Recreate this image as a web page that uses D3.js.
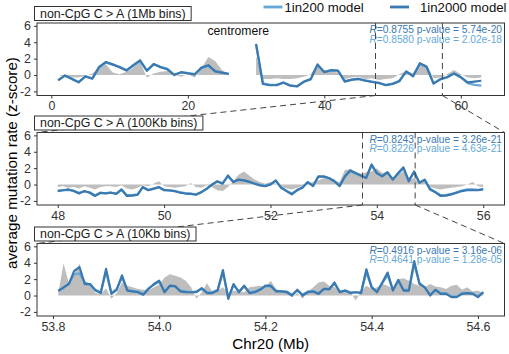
<!DOCTYPE html>
<html>
<head>
<meta charset="utf-8">
<script src="https://cdn.jsdelivr.net/npm/d3@7"></script>
<style>
  body { margin: 0; background: #fff; }
  svg { font-family: "Liberation Sans", Arial, sans-serif; }
</style>
</head>
<body>
<svg id="chart"></svg>
<script>
// ---- data ----
const legendLabels = ['1in200 model', '1in2000 model'];
const yTicks = [-2, 0, 2, 4, 6];

// 1Mb bins (centromere gap = null)
const bins1Mb = d3.range(1, 64);
const obs1Mb = [0, -0.2, -0.3, -0.3, -0.1, 0.2, 0.9, 1.3, 0.3, 0.1, 0.4, 0.9, 1.6, -0.3, 0.2, 0.4, 0.5, 0.1, -0.2, 0.1,
  -0.3, 0.8, 2.2, 1.7, 0.6, 0.1, null, null, null,
  2.3, -0.5, -0.5, -0.4, -0.5, -0.5, -0.4, -0.2, 0.1, 1.3, 0.3, 0.4, 0.3, -0.5, -0.3, -0.2, -0.5, -0.4, -0.6, -0.5,
  -0.4, 0.1, 0.5, 0.2, 1.5, 1.2, -0.4, -0.3, 0.1, 0.6, 0.1, -0.3, -0.4, -0.3];
const m200_1Mb = [-0.6, -0.1, -0.5, -0.85, -0.2, -0.4, 0.9, 1.5, 1.25, 1.0, 0.6, 1.1, 1.7, 0.5, 1.3, 1.0, 0.75, 0.05, 0.3, 0.25,
  0.05, 0.85, 1.1, 0.5, 0.25, 0.1, null, null, null,
  3.7, -1.0, -1.2, -1.2, -0.95, -1.25, -1.35, -0.85, -0.55, 1.2, 0.4, 0.55, 0.5, -0.75, -0.55, -0.5, -0.65, -0.8, -1.0, -1.2,
  -1.05, -0.7, 0.4, -0.1, 1.35, 0.95, -1.0, -0.55, -0.3, 0.15, -0.3, -1.0, -1.2, -1.3];
const m2000_1Mb = [-0.65, -0.05, -0.45, -0.9, -0.15, -0.45, 1.0, 1.6, 1.3, 0.95, 0.55, 1.2, 1.8, 0.55, 1.35, 0.95, 0.7, 0.0, 0.35, 0.2,
  0.1, 0.9, 1.2, 0.45, 0.3, 0.15, null, null, null,
  3.8, -1.1, -1.25, -1.25, -0.9, -1.3, -1.4, -0.8, -0.5, 1.3, 0.35, 0.6, 0.55, -0.8, -0.6, -0.45, -0.7, -0.85, -0.95, -1.25,
  -1.1, -0.75, 0.45, -0.15, 1.45, 1.0, -1.05, -0.5, -0.25, 0.2, -0.25, -0.9, -0.8, -0.7];

// 100Kb bins, 48.0 .. 56.0
const bins100Kb = d3.range(0, 81).map(i => 48 + i / 10);
const obs100Kb = [-0.3, -0.2, -0.4, -0.3, -0.5, -0.2, -0.4, -0.6, -0.3, -0.2,
  -0.2, -0.3, -0.1, -0.5, -0.6, -0.4, -0.1, -0.2, 0.1, 0.4,
  -0.2, -0.3, -0.4, -0.3, -0.2, 0.2, -0.3, -0.4, -0.1, -0.3,
  -0.7, -0.8, -0.3, 0.4, 1.2, 1.6, 1.1, 0.6, 0.3, 0.1,
  0.3, 0.1, -0.3, -0.5, -0.6, -0.4, -0.2, 0.1, 0.3, 0.5,
  0.8, 0.6, 0.4, 0.3, 1.8, 1.8, 1.5, 1.3, 1.5, 1.6,
  2.0, 1.4, 1.6, 0.8, 1.2, 1.6, 0.5, 0.8, 0.2, 0.4,
  -0.3, -0.5, -0.6, -0.5, -0.4, -0.3, -0.2, 0.0, 0.3, -0.2,
  -0.3];
const m200_100Kb = [-0.75, -0.7, -0.65, -0.75, -1.0, -0.85, -0.95, -1.3, -1.05, -1.05,
  -1.0, -1.1, -0.65, -1.3, -1.3, -1.2, -0.35, -0.65, -0.55, -0.35,
  -0.65, -0.75, -0.8, -0.95, -1.05, -1.1, -1.2, -0.9, -0.55, -0.05,
  0.35, 0.15, 1.0, 0.35, 0.55, 0.5, 0.3, 0.15, -0.05, -0.15,
  0.05, 0.45, -0.35, -0.75, -1.1, -0.65, -0.35, 0.25, -0.1, 0.9,
  0.95, 0.75, 0.45, -0.1, 0.95, 1.6, 1.35, 1.05, 0.85, 2.3,
  1.35, 1.05, 1.4, 0.65, 1.3, 1.95, 0.45, 1.5, 0.25, 0.55,
  -0.5, -0.9, -1.3, -1.3, -1.15, -0.95, -0.75, -0.6, -0.6, -0.65,
  -0.55];
const m2000_100Kb = [-0.8, -0.7, -0.6, -0.8, -1.1, -0.8, -1.0, -1.4, -1.0, -1.1,
  -1.0, -1.15, -0.6, -1.4, -1.35, -1.25, -0.3, -0.7, -0.5, -0.3,
  -0.7, -0.7, -0.8, -1.0, -1.1, -1.15, -1.25, -0.95, -0.5, 0.0,
  0.4, 0.1, 1.1, 0.3, 0.6, 0.5, 0.35, 0.1, -0.1, -0.2,
  0.0, 0.5, -0.4, -0.8, -1.2, -0.7, -0.4, 0.3, -0.2, 1.0,
  1.0, 0.8, 0.4, -0.2, 1.0, 1.75, 1.4, 1.1, 0.8, 2.45,
  1.4, 1.0, 1.5, 0.6, 1.4, 2.1, 0.4, 1.6, 0.2, 0.6,
  -0.6, -0.95, -1.4, -1.35, -1.2, -1.0, -0.8, -0.7, -0.7, -0.7,
  -0.6];

// 10Kb bins, 53.81 .. 54.61
const bins10Kb = d3.range(0, 81).map(i => 53.81 + i / 100);
const obs10Kb = [0.3, 3.9, 1.5, 2.6, 3.9, 1.5, 1.2, 0.3, 0.2, 0.9,
  -0.4, 0.3, 1.6, 1.2, 1.0, 0.8, 0.7, 0.6, 1.0, 1.3,
  2.2, 2.6, 2.4, 2.2, 1.8, 1.0, -0.4, 0.4, 1.5, 0.5,
  0.6, 1.0, 0.2, 0.6, 0.5, 0.4, 1.0, 1.1, 1.2, 1.0,
  1.8, 0.8, 0.4, 0.5, -0.2, 0.3, -0.4, 0.5, 1.0, 1.6,
  1.7, 1.2, 1.0, 0.6, 0.7, 0.4, -0.6, 0.5, 1.2, 0.8,
  1.0, 1.4, 1.2, 0.8, 2.0, 2.1, 1.8, 1.4, 1.2, 1.0,
  1.4, 1.1, 1.0, 0.8, 1.2, 1.3, 0.7, 1.0, 0.5, 0.6,
  0.3];
const m200_10Kb = [0.5, 0.9, 1.5, 2.6, 2.7, 1.6, 1.3, 0.7, 0.4, 2.9,
  0.3, 0.8, 2.2, 0.7, 0.5, 0.5, 0.2, 0.9, 1.3, 1.7,
  0.5, 1.1, 1.1, 0.6, 0.5, 0.4, 0.5, 0.8, 0.4, 0.4,
  0.7, 2.8, -0.2, 1.3, 0.5, 1.1, 0.4, 0.5, 0.8, 1.1,
  1.1, 0.6, 0.5, 0.5, 0.1, 0.6, 0.1, 0.5, 0.5, 0.3,
  0.8, 0.8, 1.4, 0.5, 0.6, 0.4, 0.4, 0.4, 2.8, 1.0,
  0.5, 1.5, 2.5, 0.7, 1.8, 0.7, 0.7, 3.8, 1.5, 1.0,
  0.1, 0.7, 0.3, 0.3, -0.1, -0.1, 0.3, 0.3, 0.3, -0.1,
  0.4];
const m2000_10Kb = [0.6, 1.0, 1.4, 3.0, 3.45, 1.4, 1.4, 0.6, 0.3, 3.25,
  0.2, 0.7, 2.45, 0.6, 0.5, 0.4, 0.1, 0.8, 1.4, 1.8,
  0.4, 1.2, 1.15, 0.5, 0.4, 0.4, 0.4, 0.9, 0.3, 0.3,
  0.6, 3.1, -0.4, 1.4, 0.4, 1.2, 0.3, 0.4, 0.7, 1.2,
  1.2, 0.5, 0.5, 0.4, 0.0, 0.7, 0.0, 0.4, 0.5, 0.2,
  0.8, 0.75, 1.6, 0.4, 0.6, 0.3, 0.4, 0.3, 3.2, 1.0,
  0.4, 1.6, 2.8, 0.6, 1.9, 0.6, 0.6, 4.2, 1.4, 1.0,
  0.0, 0.7, 0.2, 0.2, -0.2, -0.2, 0.2, 0.3, 0.2, -0.2,
  0.4];

const panelTitles = ['non-CpG C > A (1Mb bins)', 'non-CpG C > A (100Kb bins)', 'non-CpG C > A (10Kb bins)'];
const xDomains = [[-2.1, 66.4], [47.61, 56.4], [53.77, 54.65]];
const xTickValues = [[0, 20, 40, 60], [48, 50, 52, 54, 56], [53.8, 54.0, 54.2, 54.4, 54.6]];
const xTickFormats = [d3.format('d'), d3.format('d'), d3.format('.1f')];
const corrTexts = [
  ['0.8755 p-value = 5.74e-20', '0.8580 p-value = 2.02e-18'],
  ['0.8243 p-value = 3.26e-21', '0.8226 p-value = 4.63e-21'],
  ['0.4916 p-value = 3.16e-06', '0.4641 p-value = 1.28e-05']
];
// zoomed-in region shown by the next panel (in this panel's x units)
const zoomRegions = [[47.5, 57.3], [53.73, 54.72]];

// ---- layout ----
const width = 509, height = 354;
const left = 37, right = 504.5;
const panelTops = [23, 132.5, 243.5];
const panelH = 72.5;
const darkBlue = '#3a78b0', lightBlue = '#66a9d8', grey = '#bebebe', ink = '#333333';

const svg = d3.select('#chart').attr('width', width).attr('height', height);

const panels = [
  { bins: bins1Mb, obs: obs1Mb, m200: m200_1Mb, m2000: m2000_1Mb },
  { bins: bins100Kb, obs: obs100Kb, m200: m200_100Kb, m2000: m2000_100Kb },
  { bins: bins10Kb, obs: obs10Kb, m200: m200_10Kb, m2000: m2000_10Kb }
];

panels.forEach((p, i) => {
  const top = panelTops[i];
  p.x = d3.scaleLinear().domain(xDomains[i]).range([left, right]);
  p.y = d3.scaleLinear().domain([-2.5, 6.35]).range([top + panelH, top]);
  p.top = top;
  p.bottom = top + panelH;

  const g = svg.append('g');

  const rows = p.bins.map((b, k) => ({ b: b, obs: p.obs[k], m200: p.m200[k], m2000: p.m2000[k] }));

  const area = d3.area()
    .defined(d => d.obs != null)
    .x(d => p.x(d.b))
    .y0(p.y(0))
    .y1(d => p.y(d.obs));
  g.append('path')
    .attr('d', area(rows))
    .attr('fill', grey);

  const line = key => d3.line()
    .defined(d => d[key] != null)
    .x(d => p.x(d.b))
    .y(d => p.y(d[key]));

  g.append('path')
    .attr('d', line('m200')(rows))
    .attr('fill', 'none')
    .attr('stroke', lightBlue)
    .attr('stroke-width', 2.2)
    .attr('stroke-linejoin', 'round');
  g.append('path')
    .attr('d', line('m2000')(rows))
    .attr('fill', 'none')
    .attr('stroke', darkBlue)
    .attr('stroke-width', 2.2)
    .attr('stroke-linejoin', 'round');

  // border
  g.append('rect')
    .attr('x', left).attr('y', top)
    .attr('width', right - left).attr('height', panelH)
    .attr('fill', 'none').attr('stroke', ink).attr('stroke-width', 1);

  // axes
  const yaxis = d3.axisLeft(p.y).tickValues(yTicks).tickSize(3).tickPadding(3).tickFormat(d => String(d));
  const ya = g.append('g').attr('transform', `translate(${left},0)`).call(yaxis);
  const xaxis = d3.axisBottom(p.x).tickValues(xTickValues[i]).tickSize(3).tickPadding(3).tickFormat(xTickFormats[i]);
  const xa = g.append('g').attr('transform', `translate(0,${p.bottom})`).call(xaxis);
  [ya, xa].forEach(a => {
    a.select('.domain').remove();
    a.selectAll('line').attr('stroke', ink);
    a.selectAll('text').attr('fill', ink).style('font-size', '12.4px')
      .style('font-family', '"Liberation Sans", Arial, sans-serif');
  });

  // correlation annotation
  const ann = g.append('g').style('font-size', '10.2px');
  [darkBlue, lightBlue].forEach((c, j) => {
    const t = ann.append('text')
      .attr('x', right - 2.5)
      .attr('y', top + 10 + j * 9.5)
      .attr('text-anchor', 'end')
      .attr('fill', c);
    t.append('tspan').attr('font-style', 'italic').text('R');
    t.append('tspan').text('=' + corrTexts[i][j]);
  });
});

// centromere label
svg.append('text')
  .attr('x', panels[0].x(27.4))
  .attr('y', panels[0].y(4.85))
  .attr('text-anchor', 'middle')
  .style('font-size', '12.2px')
  .attr('fill', '#111')
  .text('centromere');

// zoom connectors
const dashed = sel => sel.attr('stroke', '#444').attr('stroke-width', 1).attr('stroke-dasharray', '6,4').attr('fill', 'none');
zoomRegions.forEach((r, i) => {
  const p = panels[i], next = panels[i + 1];
  r.forEach((v, j) => {
    const xv = p.x(v);
    svg.append('line').attr('x1', xv).attr('x2', xv).attr('y1', p.top).attr('y2', p.bottom).call(dashed);
    svg.append('line').attr('x1', xv).attr('y1', p.bottom)
      .attr('x2', j === 0 ? left : right).attr('y2', next.top).call(dashed);
  });
});

// strip labels
panelTitles.forEach((t, i) => {
  const g = svg.append('g');
  const rect = g.append('rect')
    .attr('x', 34.5).attr('y', panelTops[i] - 16.5)
    .attr('height', 14)
    .attr('fill', '#fff').attr('stroke', ink).attr('stroke-width', 1);
  const txt = g.append('text')
    .attr('x', 40)
    .attr('y', panelTops[i] - 5.3)
    .style('font-size', '12.4px')
    .attr('fill', '#1a1a1a')
    .text(t);
  rect.attr('width', txt.node().getComputedTextLength() + 11);
});

// axis titles
svg.append('text')
  .attr('transform', `translate(17,${163}) rotate(-90)`)
  .attr('text-anchor', 'middle')
  .style('font-size', '15.2px')
  .attr('fill', '#000')
  .text('average mutation rate (z-score)');

svg.append('text')
  .attr('x', (left + right) / 2)
  .attr('y', 349)
  .attr('text-anchor', 'middle')
  .style('font-size', '15.2px')
  .attr('fill', '#000')
  .text('Chr20 (Mb)');

// legend
const legend = svg.append('g').style('font-size', '13.2px');
const legendX = [[263.5, 284.5], [390, 420]];
[lightBlue, darkBlue].forEach((c, j) => {
  legend.append('line')
    .attr('x1', legendX[j][0]).attr('x2', legendX[j][0] + 19)
    .attr('y1', 7).attr('y2', 7)
    .attr('stroke', c).attr('stroke-width', 2.8);
  legend.append('text')
    .attr('x', legendX[j][1]).attr('y', 11.6)
    .attr('fill', '#111')
    .text(legendLabels[j]);
});
</script>
</body>
</html>
